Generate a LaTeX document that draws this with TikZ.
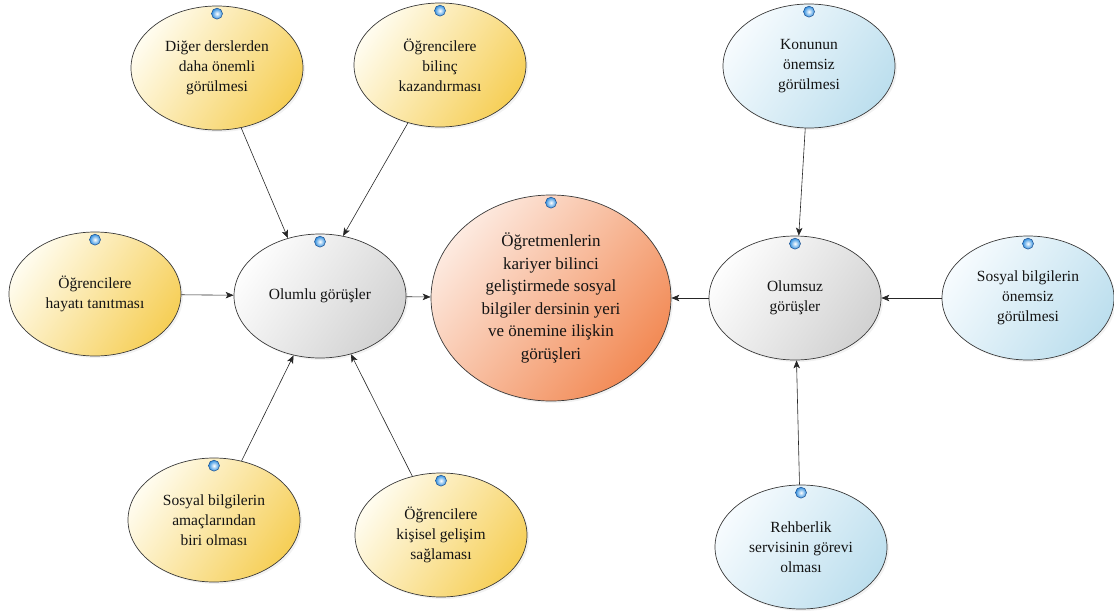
\documentclass[tikz,border=0pt]{standalone}
\usepackage{fontspec}
\setmainfont{Liberation Serif}
\newfontfamily\bubbleface{Liberation Serif}
\usetikzlibrary{shapes.geometric,arrows.meta,shadows}

\definecolor{ylwA}{HTML}{FFFCEE}
\definecolor{ylwB}{HTML}{F6CF58}
\definecolor{gryA}{HTML}{FDFDFD}
\definecolor{gryB}{HTML}{D2D2D2}
\definecolor{orgA}{HTML}{FDEAE0}
\definecolor{orgB}{HTML}{F28A55}
\definecolor{bluA}{HTML}{F6FBFE}
\definecolor{bluB}{HTML}{BDDFEE}
\definecolor{dotblue}{HTML}{2F8FE0}
\definecolor{dotrim}{HTML}{1E4E8C}
\definecolor{edge}{HTML}{3A3A3A}

\tikzset{
  bubble/.style={ellipse, draw=edge, line width=0.7pt,
    minimum width=172pt, minimum height=124pt, inner sep=0pt,
    align=center, text=black!92,
    font=\bubbleface\fontsize{15.5}{20}\selectfont,
    drop shadow={opacity=0.10, shadow xshift=2pt, shadow yshift=-2pt}},
  ylw/.style={bubble, top color=ylwA, bottom color=ylwB, shading angle=55},
  gry/.style={bubble, top color=gryA, bottom color=gryB, shading angle=55},
  blu/.style={bubble, top color=bluA, bottom color=bluB, shading angle=55},
  hub/.style={bubble, top color=orgA, bottom color=orgB, shading angle=50,
    minimum width=240pt, minimum height=206pt,
    font=\bubbleface\fontsize{17}{22.5}\selectfont},
  dotball/.style={circle, minimum size=11pt, inner sep=0pt, shade,
    inner color=white, outer color=dotblue, draw=dotrim, line width=0.5pt},
  conn/.style={-{Stealth[length=8pt,width=6.5pt,inset=2pt]},
    line width=0.6pt, draw=black!85}
}

\begin{document}
\begin{tikzpicture}[x=1pt,y=-1pt]
\useasboundingbox (0,0) rectangle (1114,613);

% positive views
\node[ylw] (dig) at (217,68) {Diğer derslerden\\daha önemli\\görülmesi};
\node[ylw] (bil) at (440,65) {Öğrencilere\\bilinç\\kazandırması};
\node[ylw] (hay) at (95,294) {Öğrencilere\\hayatı tanıtması};
\node[ylw] (ama) at (214,520) {Sosyal bilgilerin\\amaçlarından\\biri olması};
\node[ylw] (kis) at (441,535) {Öğrencilere\\kişisel gelişim\\sağlaması};
\node[gry] (olu) at (320,296) {Olumlu görüşler};

% central theme
\node[hub] (mer) at (551,298) {Öğretmenlerin\\kariyer bilinci\\geliştirmede sosyal\\bilgiler dersinin yeri\\ve önemine ilişkin\\görüşleri};

% negative views
\node[gry] (olz) at (795,298) {Olumsuz\\görüşler};
\node[blu] (kon) at (809,66) {Konunun\\önemsiz\\görülmesi};
\node[blu] (son) at (1028,298) {Sosyal bilgilerin\\önemsiz\\görülmesi};
\node[blu] (reh) at (801,547) {Rehberlik\\servisinin görevi\\olması};

% small markers near the top of each bubble
\foreach \n in {dig,bil,hay,ama,kis,olu,mer,olz,kon,son,reh}
  \node[dotball] (\n-dot) at ([yshift=-8pt]\n.north) {};

% connectors
\draw[conn] (dig.-68) -- (olu.119);
\draw[conn] (bil.-119) -- (olu.69);
\draw[conn] (hay) -- (olu);
\draw[conn] (ama.65) -- (olu.-114);
\draw[conn] (kis.116) -- (olu.-62);
\draw[conn] (olu) -- (mer);
\draw[conn] (kon) -- (olz);
\draw[conn] (son) -- (olz);
\draw[conn] (reh) -- (olz);
\draw[conn] (olz) -- (mer);
\end{tikzpicture}
\end{document}
